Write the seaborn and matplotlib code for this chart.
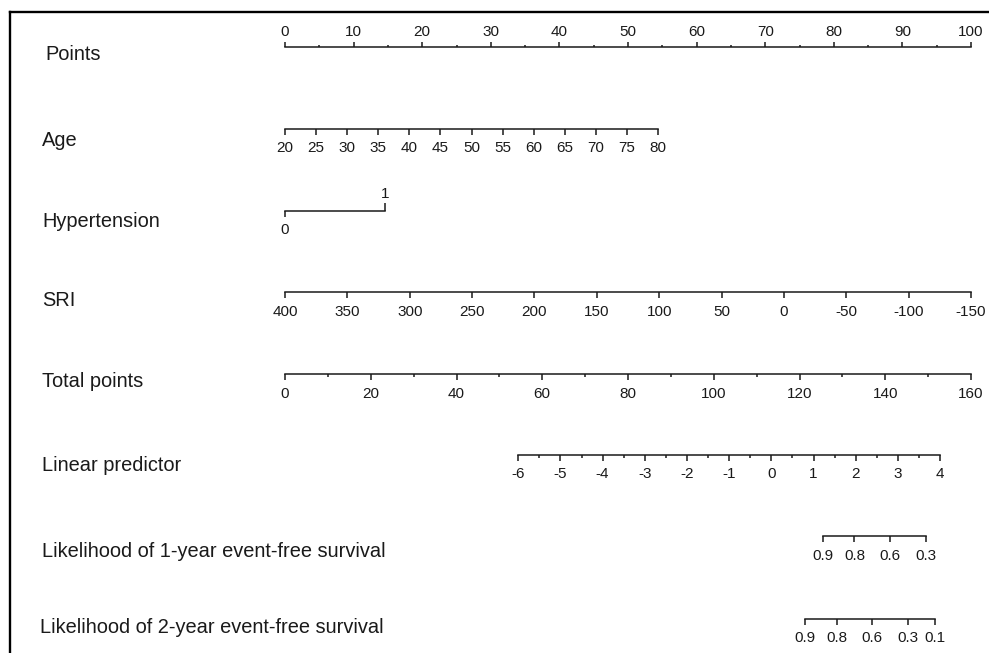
import matplotlib
matplotlib.use("Agg")
import matplotlib.pyplot as plt
import seaborn as sns

# ---- scale values ----
points_ticks = [0, 10, 20, 30, 40, 50, 60, 70, 80, 90, 100]
points_minor = [5, 15, 25, 35, 45, 55, 65, 75, 85, 95]

age_ticks = [20, 25, 30, 35, 40, 45, 50, 55, 60, 65, 70, 75, 80]
age_span = [0, 54.4]          # points at age 20 and age 80

htn_ticks = [0, 1]
htn_span = [0, 14.6]

sri_ticks = [400, 350, 300, 250, 200, 150, 100, 50, 0, -50, -100, -150]
sri_span = [0, 100]

total_ticks = [0, 20, 40, 60, 80, 100, 120, 140, 160]
total_minor = [10, 30, 50, 70, 90, 110, 130, 150]
total_span = [0, 100]

lp_ticks = [-6, -5, -4, -3, -2, -1, 0, 1, 2, 3, 4]
lp_minor = [-5.5, -4.5, -3.5, -2.5, -1.5, -0.5, 0.5, 1.5, 2.5, 3.5]
lp_span = [34.0, 95.5]        # in points units

surv1_labels = ["0.9", "0.8", "0.6", "0.3"]
surv1_lp = [1.22, 1.97, 2.80, 3.66]
surv2_labels = ["0.9", "0.8", "0.6", "0.3", "0.1"]
surv2_lp = [0.80, 1.56, 2.38, 3.24, 3.88]

row_names = ["Points", "Age", "Hypertension", "SRI", "Total points",
             "Linear predictor",
             "Likelihood of 1-year event-free survival",
             "Likelihood of 2-year event-free survival"]

# ---- layout ----
W, H = 989, 653
PX0, PX100 = 285, 971
row_y = [46.7, 129, 211, 292, 374, 455, 536, 619]
label_y = [60, 146, 227, 306, 387, 471, 557, 633]
label_x = [45, 42, 42, 42, 42, 42, 42, 40]
LW = 1.1
INK = "#1a1a1a"
TICK_FS = 11

sns.set_theme(style="white")
plt.rcParams["font.family"] = ["Liberation Sans", "DejaVu Sans"]
plt.rcParams["text.color"] = INK
plt.rcParams["axes.unicode_minus"] = False

fig = plt.figure(figsize=(W / 100, H / 100), dpi=100)


def row_axes(span, y, xlim):
    x0 = PX0 + span[0] * (PX100 - PX0) / 100
    x1 = PX0 + span[1] * (PX100 - PX0) / 100
    ax = fig.add_axes([x0 / W, 1 - y / H, (x1 - x0) / W, 1e-5])
    ax.patch.set_visible(False)
    ax.set_yticks([])
    sns.despine(ax=ax, left=True, right=True, top=True, bottom=False)
    ax.spines["bottom"].set_linewidth(LW)
    ax.spines["bottom"].set_color(INK)
    ax.set_xlim(*xlim)
    ax.tick_params(axis="x", which="major", direction="out", length=4.5, width=LW,
                   pad=4.5, labelsize=TICK_FS, colors=INK, bottom=True)
    ax.tick_params(axis="x", which="minor", direction="out", length=2.2, width=LW,
                   colors=INK, bottom=True)
    return ax


# Points
ax = row_axes([0, 100], row_y[0], (0, 100))
ax.set_xticks(points_ticks)
ax.set_xticks(points_minor, minor=True)
ax.xaxis.set_ticks_position("top")
ax.tick_params(axis="x", which="major", length=3.8, pad=1.5)
ax.tick_params(axis="x", which="minor", length=1.8)

# Age
ax = row_axes(age_span, row_y[1], (age_ticks[0], age_ticks[-1]))
ax.set_xticks(age_ticks)

# Hypertension: 0 below, 1 above
ax = row_axes(htn_span, row_y[2], (htn_ticks[0], htn_ticks[-1]))
ax.set_xticks([htn_ticks[0]])
sec = ax.secondary_xaxis("top")
sec.set_xticks([htn_ticks[1]])
sec.spines["top"].set_visible(False)
sec.tick_params(axis="x", direction="out", length=6, width=LW, pad=1.5,
                labelsize=TICK_FS, colors=INK)

# SRI
ax = row_axes(sri_span, row_y[3], (sri_ticks[0], sri_ticks[-1]))
ax.set_xticks(sri_ticks)

# Total points
ax = row_axes(total_span, row_y[4], (total_ticks[0], total_ticks[-1]))
ax.set_xticks(total_ticks)
ax.set_xticks(total_minor, minor=True)

# Linear predictor
ax = row_axes(lp_span, row_y[5], (lp_ticks[0], lp_ticks[-1]))
ax.set_xticks(lp_ticks)
ax.set_xticks(lp_minor, minor=True)

# survival scales, placed on the linear predictor scale
for yy, pos, labs in [(row_y[6], surv1_lp, surv1_labels),
                      (row_y[7], surv2_lp, surv2_labels)]:
    ax = row_axes(lp_span, yy, (lp_ticks[0], lp_ticks[-1]))
    ax.set_xticks(pos)
    ax.set_xticklabels(labs)
    ax.spines["bottom"].set_bounds(min(pos), max(pos))

# row labels
for name, lx, ly in zip(row_names, label_x, label_y):
    fig.text(lx / W, 1 - ly / H, name, fontsize=14.4, ha="left", va="baseline",
             color=INK)

# frame on the left and top
fr = fig.add_axes([10 / W, -0.05, 1.0, 1 - 11.5 / H + 0.05], zorder=-1)
fr.patch.set_visible(False)
fr.set_xticks([])
fr.set_yticks([])
sns.despine(ax=fr, right=True, bottom=True, top=False, left=False)
for s in ["left", "top"]:
    fr.spines[s].set_linewidth(1.7)
    fr.spines[s].set_color("black")

fig.savefig("out.png", dpi=100)
